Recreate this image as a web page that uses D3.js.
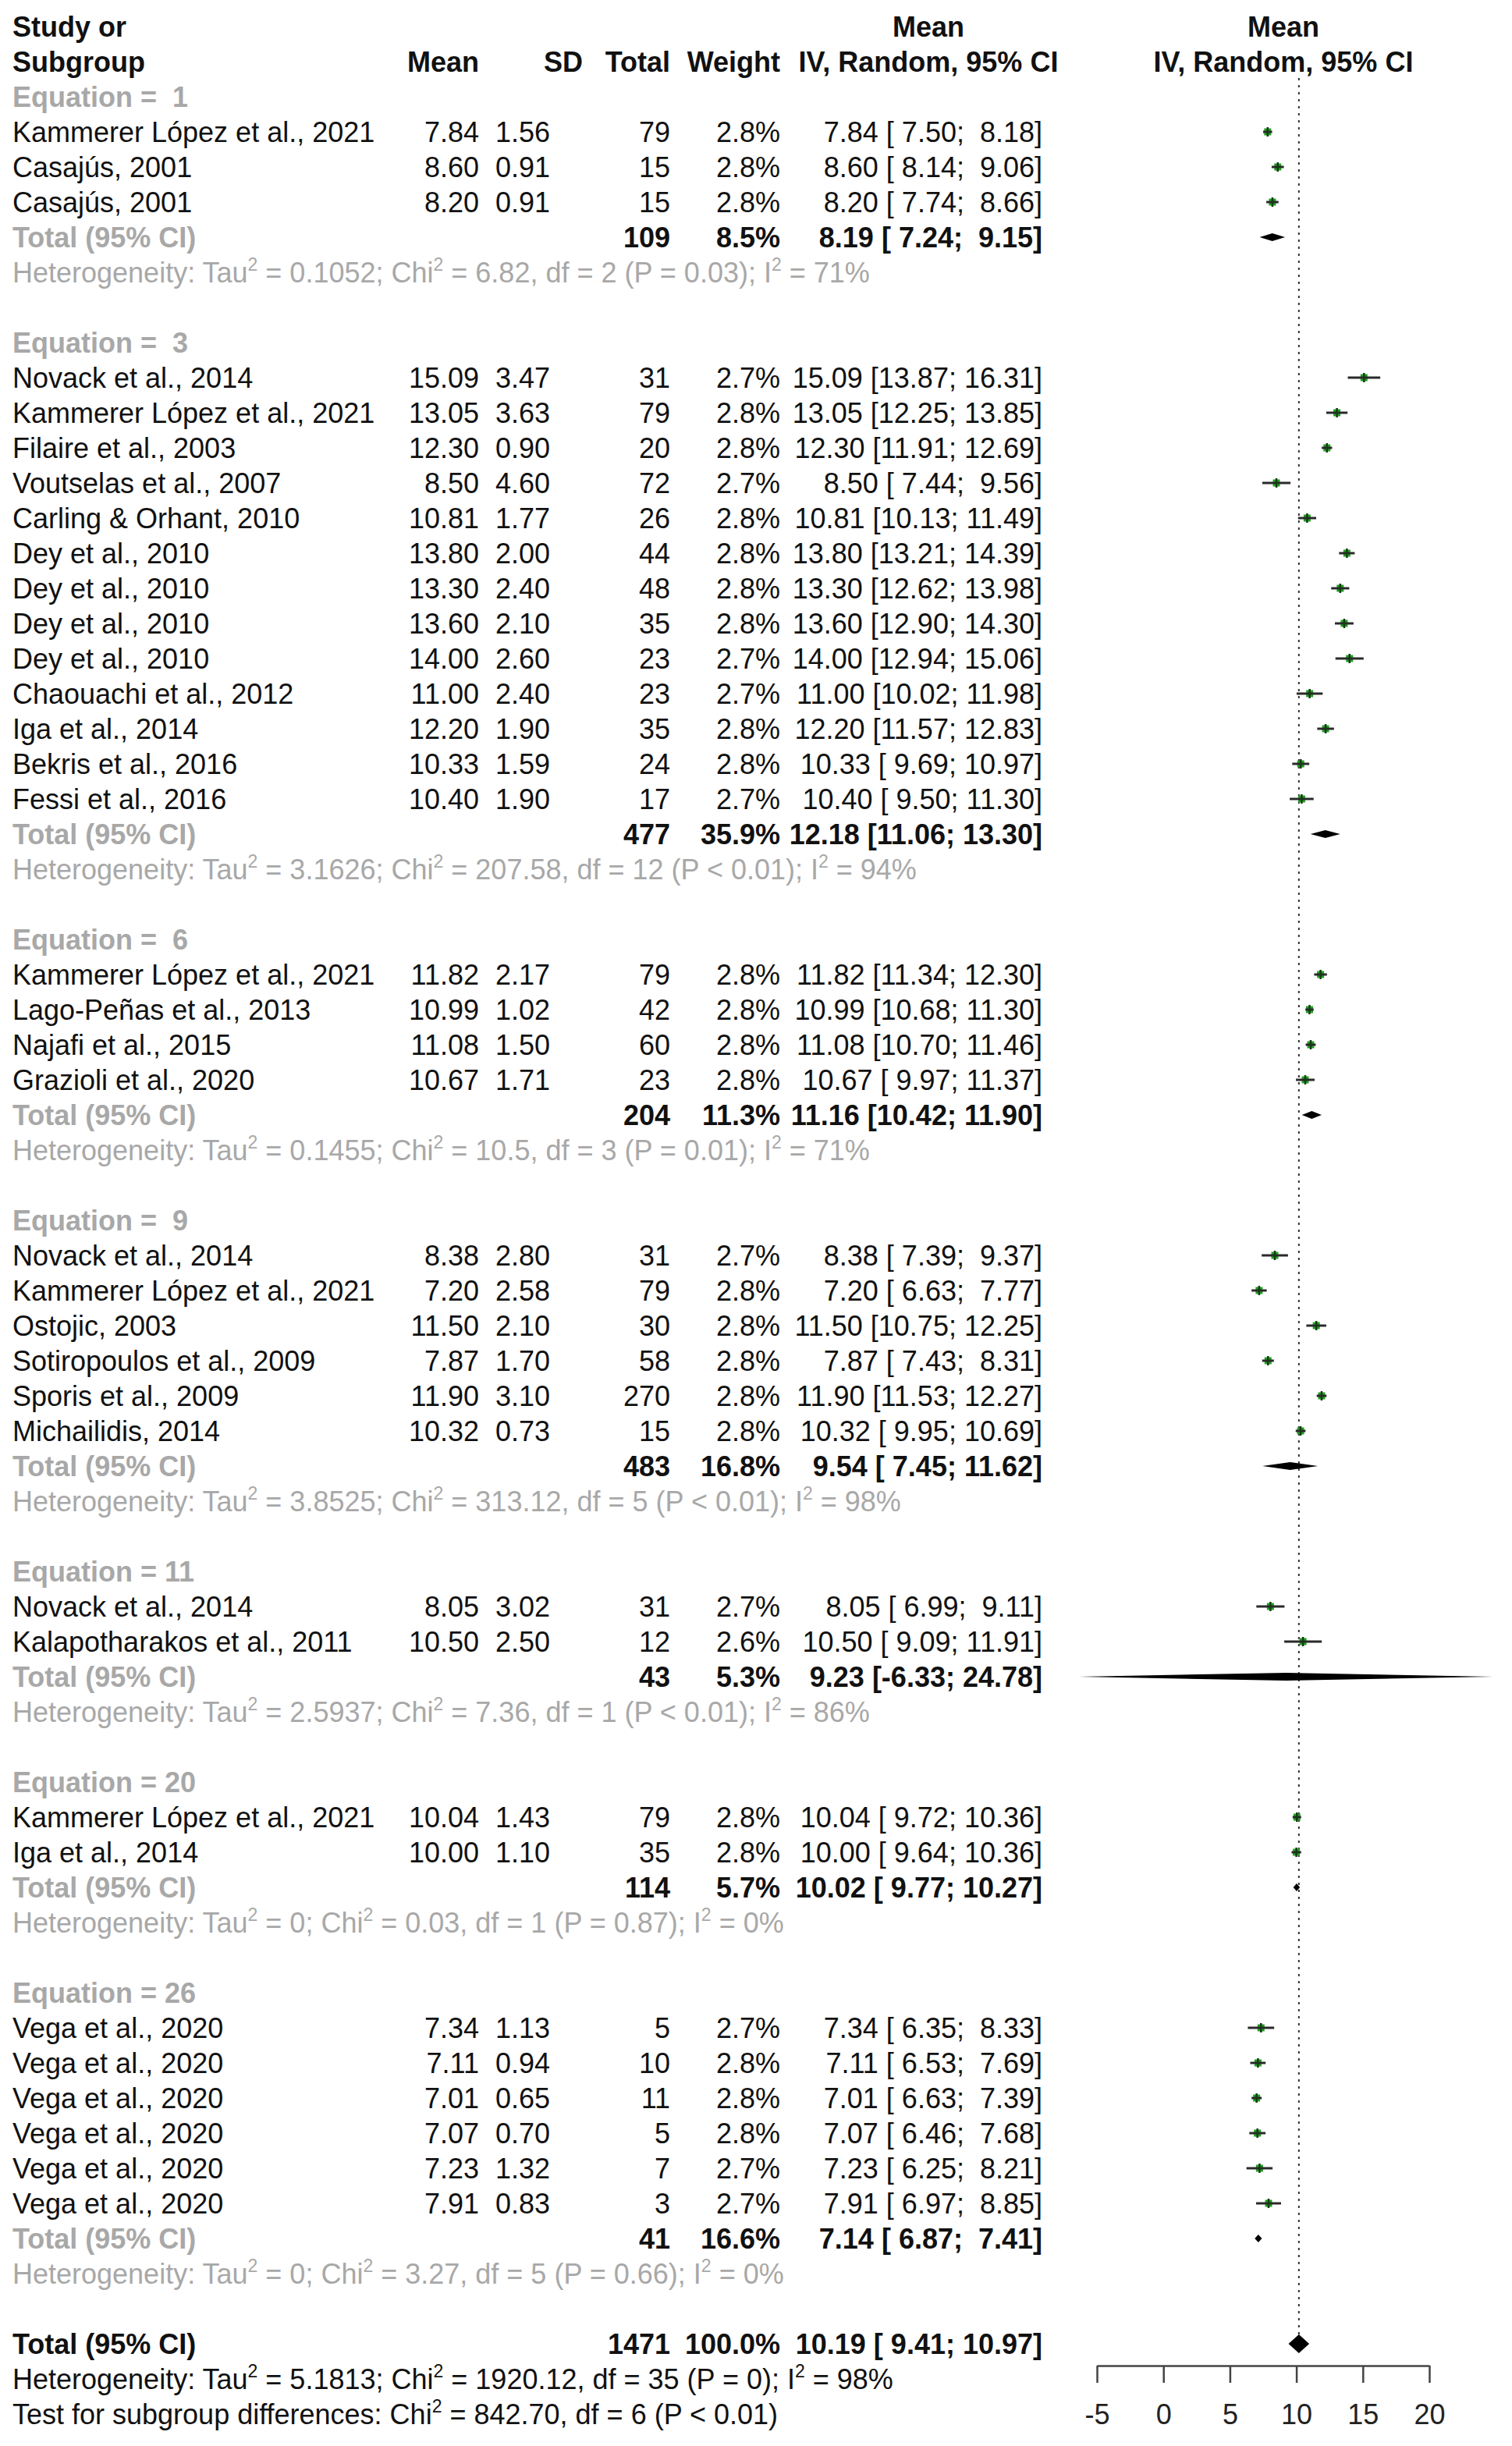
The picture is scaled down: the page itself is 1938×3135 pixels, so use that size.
<!DOCTYPE html>
<html>
<head>
<meta charset="utf-8">
<script src="https://cdn.jsdelivr.net/npm/d3@7"></script>
<style>
body { margin: 0; background: #fff; }
svg text { font-family: "Liberation Sans", Arial, sans-serif; font-size: 36px; white-space: pre; }
</style>
</head>
<body>
<svg id="chart" width="1938" height="3135"></svg>
<script>
// ---- study level data ----
var studyNames = [
    "Kammerer López et al., 2021", "Casajús, 2001", "Casajús, 2001",
    "Novack et al., 2014", "Kammerer López et al., 2021", "Filaire et al., 2003", "Voutselas et al., 2007",
    "Carling & Orhant, 2010", "Dey et al., 2010", "Dey et al., 2010", "Dey et al., 2010", "Dey et al., 2010",
    "Chaouachi et al., 2012", "Iga et al., 2014", "Bekris et al., 2016", "Fessi et al., 2016",
    "Kammerer López et al., 2021", "Lago-Peñas et al., 2013", "Najafi et al., 2015", "Grazioli et al., 2020",
    "Novack et al., 2014", "Kammerer López et al., 2021", "Ostojic, 2003", "Sotiropoulos et al., 2009",
    "Sporis et al., 2009", "Michailidis, 2014",
    "Novack et al., 2014", "Kalapotharakos et al., 2011",
    "Kammerer López et al., 2021", "Iga et al., 2014",
    "Vega et al., 2020", "Vega et al., 2020", "Vega et al., 2020", "Vega et al., 2020", "Vega et al., 2020", "Vega et al., 2020"
];
var studyGroup = [1, 1, 1, 3, 3, 3, 3, 3, 3, 3, 3, 3, 3, 3, 3, 3, 6, 6, 6, 6, 9, 9, 9, 9, 9, 9, 11, 11, 20, 20, 26, 26, 26, 26, 26, 26];
var studyMeans = [7.84, 8.60, 8.20, 15.09, 13.05, 12.30, 8.50, 10.81, 13.80, 13.30, 13.60, 14.00, 11.00, 12.20, 10.33, 10.40,
    11.82, 10.99, 11.08, 10.67, 8.38, 7.20, 11.50, 7.87, 11.90, 10.32, 8.05, 10.50, 10.04, 10.00,
    7.34, 7.11, 7.01, 7.07, 7.23, 7.91];
var studySDs = [1.56, 0.91, 0.91, 3.47, 3.63, 0.90, 4.60, 1.77, 2.00, 2.40, 2.10, 2.60, 2.40, 1.90, 1.59, 1.90,
    2.17, 1.02, 1.50, 1.71, 2.80, 2.58, 2.10, 1.70, 3.10, 0.73, 3.02, 2.50, 1.43, 1.10,
    1.13, 0.94, 0.65, 0.70, 1.32, 0.83];
var studyTotals = [79, 15, 15, 31, 79, 20, 72, 26, 44, 48, 35, 23, 23, 35, 24, 17,
    79, 42, 60, 23, 31, 79, 30, 58, 270, 15, 31, 12, 79, 35, 5, 10, 11, 5, 7, 3];
var studyWeights = [2.8, 2.8, 2.8, 2.7, 2.8, 2.8, 2.7, 2.8, 2.8, 2.8, 2.8, 2.7, 2.7, 2.8, 2.8, 2.7,
    2.8, 2.8, 2.8, 2.8, 2.7, 2.8, 2.8, 2.8, 2.8, 2.8, 2.7, 2.6, 2.8, 2.8, 2.7, 2.8, 2.8, 2.8, 2.7, 2.7];
var studyLower = [7.50, 8.14, 7.74, 13.87, 12.25, 11.91, 7.44, 10.13, 13.21, 12.62, 12.90, 12.94, 10.02, 11.57, 9.69, 9.50,
    11.34, 10.68, 10.70, 9.97, 7.39, 6.63, 10.75, 7.43, 11.53, 9.95, 6.99, 9.09, 9.72, 9.64,
    6.35, 6.53, 6.63, 6.46, 6.25, 6.97];
var studyUpper = [8.18, 9.06, 8.66, 16.31, 13.85, 12.69, 9.56, 11.49, 14.39, 13.98, 14.30, 15.06, 11.98, 12.83, 10.97, 11.30,
    12.30, 11.30, 11.46, 11.37, 9.37, 7.77, 12.25, 8.31, 12.27, 10.69, 9.11, 11.91, 10.36, 10.36,
    8.33, 7.69, 7.39, 7.68, 8.21, 8.85];

// ---- subgroup data ----
var groupIds = [1, 3, 6, 9, 11, 20, 26];
var groupTotals = [109, 477, 204, 483, 43, 114, 41];
var groupWeights = [8.5, 35.9, 11.3, 16.8, 5.3, 5.7, 16.6];
var groupEst = [8.19, 12.18, 11.16, 9.54, 9.23, 10.02, 7.14];
var groupLower = [7.24, 11.06, 10.42, 7.45, -6.33, 9.77, 6.87];
var groupUpper = [9.15, 13.30, 11.90, 11.62, 24.78, 10.27, 7.41];
var groupTau2 = ["0.1052", "3.1626", "0.1455", "3.8525", "2.5937", "0", "0"];
var groupChi2 = ["6.82", "207.58", "10.5", "313.12", "7.36", "0.03", "3.27"];
var groupDf = [2, 12, 3, 5, 1, 1, 5];
var groupP = ["P = 0.03", "P < 0.01", "P = 0.01", "P < 0.01", "P < 0.01", "P = 0.87", "P = 0.66"];
var groupI2 = [71, 94, 71, 98, 86, 0, 0];

// ---- overall ----
var overallTotal = 1471, overallWeight = 100.0;
var overallEst = 10.19, overallLower = 9.41, overallUpper = 10.97;
var overallHet = "Heterogeneity: Tau^2 = 5.1813; Chi^2 = 1920.12, df = 35 (P = 0); I^2 = 98%";
var subgroupTest = "Test for subgroup differences: Chi^2 = 842.70, df = 6 (P < 0.01)";

var tickValues = [-5, 0, 5, 10, 15, 20];

var svg = d3.select("#chart");
var grey = "#a8a8a8", ink = "#111";

// row layout: one row per text line
var y = d3.scaleLinear().domain([0, 68]).range([34, 34 + 45 * 68]);
var x = d3.scaleLinear().domain([-5, 20]).range([1406, 1832]);
var base = 13; // baseline offset from row centre

var col = { name: 16, mean: 614, sd: 705, total: 859, weight: 1000, ci: 1336 };

function f2(v) { return v.toFixed(2); }
function ciText(m, lo, hi) {
    return f2(m) + " [" + f2(lo).padStart(5, " ") + "; " + f2(hi).padStart(5, " ") + "]";
}

function txt(xp, row, s, opt) {
    opt = opt || {};
    return svg.append("text")
        .attr("x", xp)
        .attr("y", y(row) + base)
        .attr("text-anchor", opt.anchor || "start")
        .attr("font-weight", opt.bold ? "bold" : "normal")
        .attr("fill", opt.fill || ink)
        .text(s);
}

// text with "^2" superscripts
function supText(xp, row, s, fill) {
    var t = svg.append("text")
        .attr("x", xp)
        .attr("y", y(row) + base)
        .attr("fill", fill);
    var parts = s.split("^2");
    parts.forEach(function (p, i) {
        var sp = t.append("tspan").text(p);
        if (i > 0) sp.attr("dy", 15);
        if (i < parts.length - 1) {
            t.append("tspan").attr("dy", -15).style("font-size", "23px").text("2");
        }
    });
}

// headers
txt(col.name, 0, "Study or", { bold: true });
txt(col.name, 1, "Subgroup", { bold: true });
txt(col.mean, 1, "Mean", { bold: true, anchor: "end" });
txt(747, 1, "SD", { bold: true, anchor: "end" });
txt(col.total, 1, "Total", { bold: true, anchor: "end" });
txt(col.weight, 1, "Weight", { bold: true, anchor: "end" });
txt(1190, 0, "Mean", { bold: true, anchor: "middle" });
txt(1190, 1, "IV, Random, 95% CI", { bold: true, anchor: "middle" });
txt(1645, 0, "Mean", { bold: true, anchor: "middle" });
txt(1645, 1, "IV, Random, 95% CI", { bold: true, anchor: "middle" });

// reference line at overall estimate
svg.append("line")
    .attr("x1", x(overallEst)).attr("x2", x(overallEst))
    .attr("y1", 100).attr("y2", y(66) - 12)
    .attr("stroke", "#333").attr("stroke-width", 2)
    .attr("stroke-dasharray", "3,6");

function diamond(est, lo, hi, row, h) {
    var cy = y(row);
    svg.append("path")
        .attr("d", "M" + x(lo) + "," + cy + "L" + x(est) + "," + (cy - h) +
            "L" + x(hi) + "," + cy + "L" + x(est) + "," + (cy + h) + "Z")
        .attr("fill", "#000");
}

var row = 2;
groupIds.forEach(function (g, gi) {
    txt(col.name, row, "Equation = " + String(g).padStart(2, " "), { bold: true, fill: grey });
    row++;
    studyGroup.forEach(function (sg, i) {
        if (sg !== g) return;
        txt(col.name, row, studyNames[i]);
        txt(col.mean, row, f2(studyMeans[i]), { anchor: "end" });
        txt(col.sd, row, f2(studySDs[i]), { anchor: "end" });
        txt(col.total, row, String(studyTotals[i]), { anchor: "end" });
        txt(col.weight, row, studyWeights[i].toFixed(1) + "%", { anchor: "end" });
        txt(col.ci, row, ciText(studyMeans[i], studyLower[i], studyUpper[i]), { anchor: "end" });

        var cy = y(row);
        svg.append("rect")
            .attr("x", x(studyMeans[i]) - 4.5).attr("y", cy - 4.5)
            .attr("width", 9).attr("height", 9)
            .attr("fill", "#22a022");
        svg.append("line")
            .attr("x1", x(studyLower[i])).attr("x2", x(studyUpper[i]))
            .attr("y1", cy).attr("y2", cy)
            .attr("stroke", "#2a2a2a").attr("stroke-width", 3);
        svg.append("line")
            .attr("x1", x(studyMeans[i])).attr("x2", x(studyMeans[i]))
            .attr("y1", cy - 6).attr("y2", cy + 6)
            .attr("stroke", "#143c14").attr("stroke-width", 2.5);
        row++;
    });
    txt(col.name, row, "Total (95% CI)", { bold: true, fill: grey });
    txt(col.total, row, String(groupTotals[gi]), { bold: true, anchor: "end" });
    txt(col.weight, row, groupWeights[gi].toFixed(1) + "%", { bold: true, anchor: "end" });
    txt(col.ci, row, ciText(groupEst[gi], groupLower[gi], groupUpper[gi]), { bold: true, anchor: "end" });
    diamond(groupEst[gi], groupLower[gi], groupUpper[gi], row, 5);
    row++;
    supText(col.name, row, "Heterogeneity: Tau^2 = " + groupTau2[gi] + "; Chi^2 = " + groupChi2[gi] +
        ", df = " + groupDf[gi] + " (" + groupP[gi] + "); I^2 = " + groupI2[gi] + "%", grey);
    row += 2;
});

// overall
txt(col.name, row, "Total (95% CI)", { bold: true });
txt(col.total, row, String(overallTotal), { bold: true, anchor: "end" });
txt(col.weight, row, overallWeight.toFixed(1) + "%", { bold: true, anchor: "end" });
txt(col.ci, row, ciText(overallEst, overallLower, overallUpper), { bold: true, anchor: "end" });
diamond(overallEst, overallLower, overallUpper, row, 12);
supText(col.name, row + 1, overallHet, ink);
supText(col.name, row + 2, subgroupTest, ink);

// axis
var axis = svg.append("g")
    .attr("transform", "translate(0,3032)")
    .call(d3.axisBottom(x).tickValues(tickValues).tickFormat(function (d) { return String(d); })
        .tickSize(22).tickSizeOuter(0).tickPadding(27));
axis.select(".domain").attr("stroke", "#444").attr("stroke-width", 2.5);
axis.selectAll(".tick line").attr("stroke", "#444").attr("stroke-width", 2.5);
axis.selectAll(".tick text")
    .attr("fill", "#222")
    .style("font-size", "36px")
    .style("font-family", "\"Liberation Sans\", Arial, sans-serif");
</script>
</body>
</html>
